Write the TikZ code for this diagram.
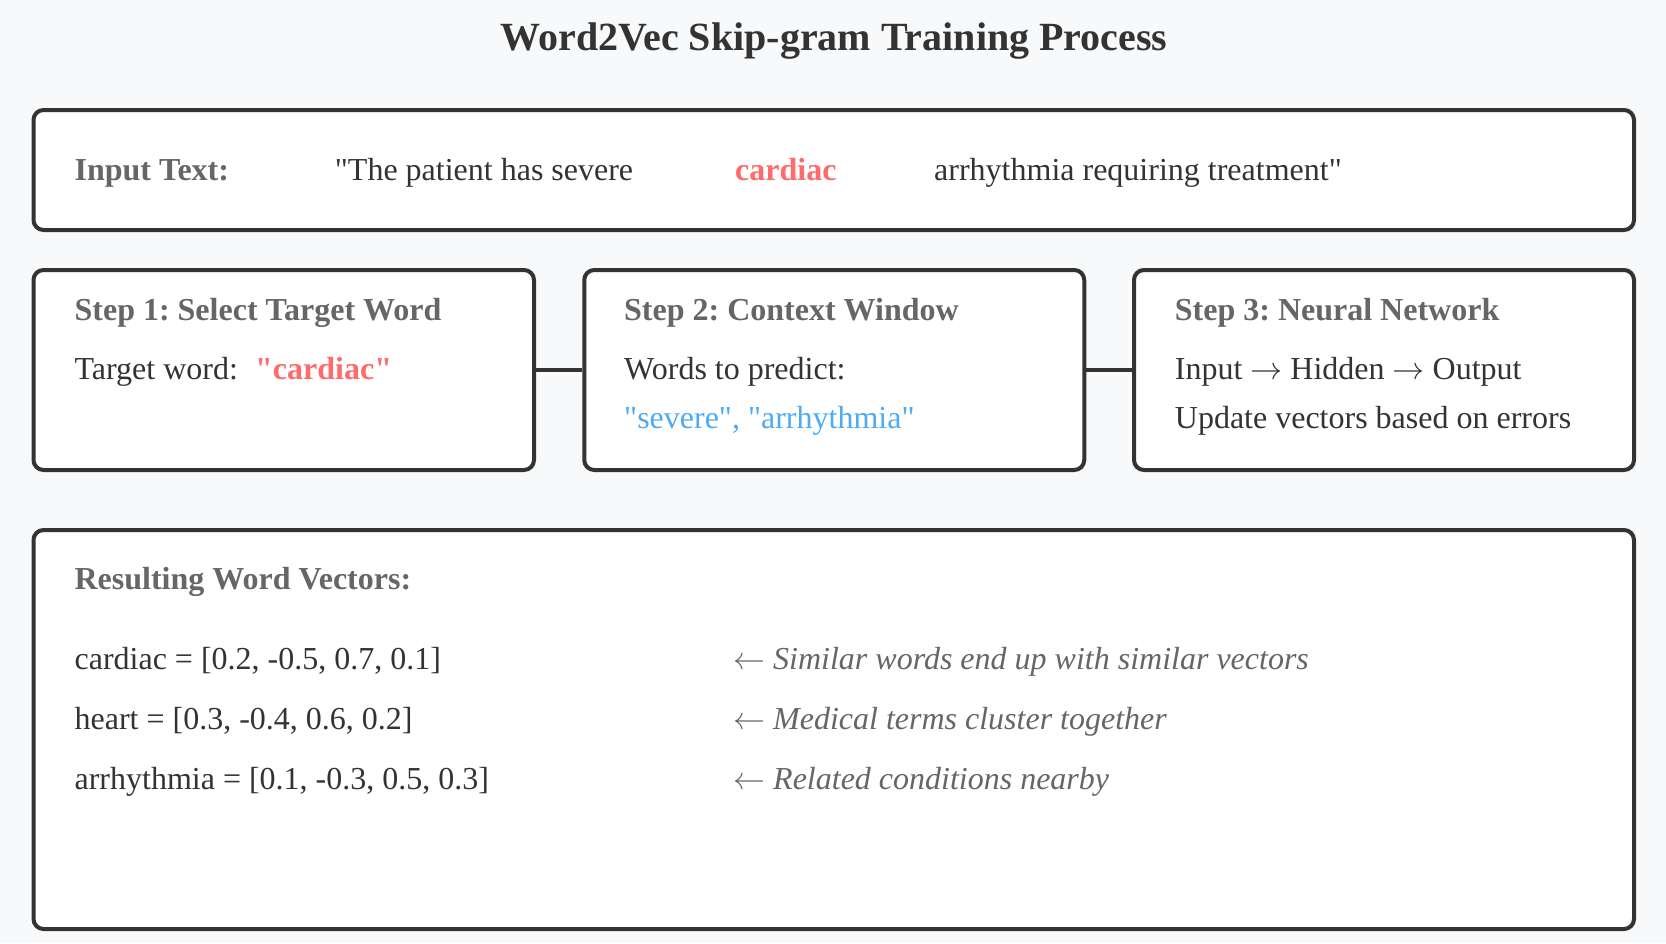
\documentclass[tikz,border=0pt]{standalone}
\usepackage{fontspec}
\usepackage{unicode-math}
\setmainfont{Liberation Serif}[Ligatures=TeXOff]
\setmathfont{Latin Modern Math}
\definecolor{bg}{HTML}{F8F9FA}
\definecolor{ink}{HTML}{333333}
\definecolor{muted}{HTML}{666666}
\definecolor{hot}{HTML}{FF6B6B}
\definecolor{cool}{HTML}{4DABF7}
\newcommand{\ra}{\ensuremath{\rightarrow}}
\newcommand{\la}{\ensuremath{\leftarrow}}
\frenchspacing
\begin{document}
\begin{tikzpicture}[x=1pt,y=-1pt,
  panel/.style={draw=ink, line width=4pt, fill=white, rounded corners=10pt, inner sep=0pt},
  txt/.style={anchor=base west, inner sep=0pt, font=\fontsize{32}{38}\selectfont\frenchspacing, text=ink},
  head/.style={txt, font=\fontsize{32}{38}\selectfont\bfseries\frenchspacing, text=muted},
  hotword/.style={txt, font=\fontsize{32}{38}\selectfont\bfseries, text=hot},
  coolword/.style={txt, text=cool},
  note/.style={txt, text=muted},
  link/.style={draw=ink, line width=4pt}]
\fill[bg] (0,0) rectangle (1666,943);
\useasboundingbox (0,0) rectangle (1666,943);

% title
\node[anchor=base, inner sep=0pt, font=\fontsize{40}{47}\selectfont\bfseries, text=ink] (title) at (834,50) {Word2Vec Skip-gram Training Process};

% panels
\node[panel, minimum width=1600.5pt, minimum height=120pt] (inbox) at (833.75,170) {};
\node[panel, minimum width=500.5pt, minimum height=200pt] (s1) at (283.75,370) {};
\node[panel, minimum width=500pt, minimum height=200pt] (s2) at (834.25,370) {};
\node[panel, minimum width=500pt, minimum height=200pt] (s3) at (1384,370) {};
\node[panel, minimum width=1600.5pt, minimum height=399pt] (vecbox) at (833.75,729.5) {};

% connectors
\draw[link] (s1.east) -- (s2.west);
\draw[link] (s2.east) -- (s3.west);

% input text
\node[head] (inlabel) at (74.4,180) {Input Text:};
\node[txt] (inpre) at (334.7,180) {"The patient has severe};
\node[hotword] (inword) at (735,180) {cardiac};
\node[txt] (inpost) at (934,180) {arrhythmia requiring treatment"};

% step 1
\node[head] (h1) at (74.4,320) {Step 1: Select Target Word};
\node[txt] (t1) at (74.4,379) {Target word:};
\node[hotword] (t1w) at (255,379) {"cardiac"};

% step 2
\node[head] (h2) at (624,320) {Step 2: Context Window};
\node[txt] (t2) at (624,379) {Words to predict:};
\node[coolword] (t2w) at (624,428) {"severe", "arrhythmia"};

% step 3
\node[head] (h3) at (1174.7,320) {Step 3: Neural Network};
\node[txt] (t3a) at (1174.7,379) {Input \ra{} Hidden \ra{} Output};
\node[txt] (t3b) at (1174.7,428) {Update vectors based on errors};

% vectors
\node[head] (h4) at (74.4,589) {Resulting Word Vectors:};
\node[txt] (v1) at (74.4,669) {cardiac = [0.2, -0.5, 0.7, 0.1]};
\node[txt] (v2) at (74.4,729) {heart = [0.3, -0.4, 0.6, 0.2]};
\node[txt] (v3) at (74.4,789) {arrhythmia = [0.1, -0.3, 0.5, 0.3]};
\node[note] (n1) at (733,669) {\la{} \textit{Similar words end up with similar vectors}};
\node[note] (n2) at (733,729) {\la{} \textit{Medical terms cluster together}};
\node[note] (n3) at (733,789) {\la{} \textit{Related conditions nearby}};
\end{tikzpicture}
\end{document}
